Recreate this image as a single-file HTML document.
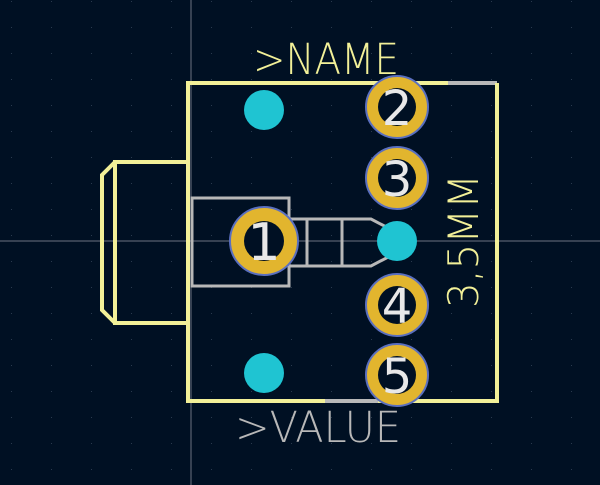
<!DOCTYPE html>
<html><head><meta charset="utf-8"><style>
html,body{margin:0;padding:0;background:#001023;}
svg{display:block}
text{font-family:"DejaVu Sans","Liberation Sans",sans-serif;}
</style></head><body>
<svg width="600" height="485" viewBox="0 0 600 485">
<rect width="600" height="485" fill="#001023"/>
<g id="grid"></g>
<line x1="191" y1="0" x2="191" y2="485" stroke="#6b7280" stroke-width="1"/>
<line x1="0" y1="241" x2="600" y2="241" stroke="#6b7280" stroke-width="1"/>
<g fill="none" stroke="#f2f098" stroke-width="4">
<polyline points="188,162 115,162 115,323 188,323"/>
<polyline points="115,162 102,175 102,310 115,323"/>
</g>
<g fill="none" stroke-width="4">
<polyline points="448,83 188,83 188,401 325,401" stroke="#f2f098"/>
<polyline points="448,83 497,83" stroke="#b8b8b8"/>
<polyline points="497,83 497,401 378,401" stroke="#f2f098"/>
<polyline points="325,401 378,401" stroke="#b8b8b8"/>
</g>
<g fill="none" stroke="#b8b8b8" stroke-width="3">
<rect x="192" y="198" width="97" height="88"/>
<polyline points="289,219 371,219 392,230"/>
<polyline points="289,266 371,266 392,255"/>
<line x1="307" y1="219" x2="307" y2="266"/>
<line x1="342" y1="219" x2="342" y2="266"/>
</g>
<g fill="#1fc4d2">
<circle cx="264" cy="110" r="20"/>
<circle cx="264" cy="373" r="20"/>
<circle cx="397" cy="241" r="20"/>
</g>
<g>
<g><circle cx="264" cy="241" r="34" fill="#e2b52e" stroke="#5a6fbf" stroke-width="2"/><circle cx="264" cy="241" r="20" fill="#001023"/><text x="264" y="260" font-size="52" fill="#e8e8e8" text-anchor="middle">1</text></g>
<g><circle cx="397" cy="107" r="31" fill="#e2b52e" stroke="#5a6fbf" stroke-width="2"/><circle cx="397" cy="107" r="19" fill="#001023"/><text x="397" y="125" font-size="48" fill="#e8e8e8" text-anchor="middle">2</text></g>
<g><circle cx="397" cy="178" r="31" fill="#e2b52e" stroke="#5a6fbf" stroke-width="2"/><circle cx="397" cy="178" r="19" fill="#001023"/><text x="397" y="196" font-size="48" fill="#e8e8e8" text-anchor="middle">3</text></g>
<g><circle cx="397" cy="305" r="31" fill="#e2b52e" stroke="#5a6fbf" stroke-width="2"/><circle cx="397" cy="305" r="19" fill="#001023"/><text x="397" y="323" font-size="48" fill="#e8e8e8" text-anchor="middle">4</text></g>
<g><circle cx="397" cy="375" r="31" fill="#e2b52e" stroke="#5a6fbf" stroke-width="2"/><circle cx="397" cy="375" r="19" fill="#001023"/><text x="397" y="393" font-size="48" fill="#e8e8e8" text-anchor="middle">5</text></g>
</g>
<text x="253" y="74" font-size="43" font-weight="200" fill="#f2f098" textLength="146" lengthAdjust="spacingAndGlyphs">&gt;NAME</text>
<text x="235" y="442" font-size="43" font-weight="200" fill="#b8b8b8" textLength="166" lengthAdjust="spacingAndGlyphs">&gt;VALUE</text>
<text transform="translate(478,241) rotate(-90)" x="0" y="0" font-size="42" font-weight="200" fill="#f2f098" text-anchor="middle" textLength="134" lengthAdjust="spacingAndGlyphs">3,5MM</text>
</svg>
<script>
var g=document.getElementById('grid');
for(var x=11;x<600;x+=40){for(var y=1;y<485;y+=26){var c=document.createElementNS('http://www.w3.org/2000/svg','rect');


c.setAttribute('x',x);c.setAttribute('y',y);c.setAttribute('width',1);c.setAttribute('height',1);c.setAttribute('fill','#2a3a4e');g.appendChild(c);}}
</script>
</body></html>
